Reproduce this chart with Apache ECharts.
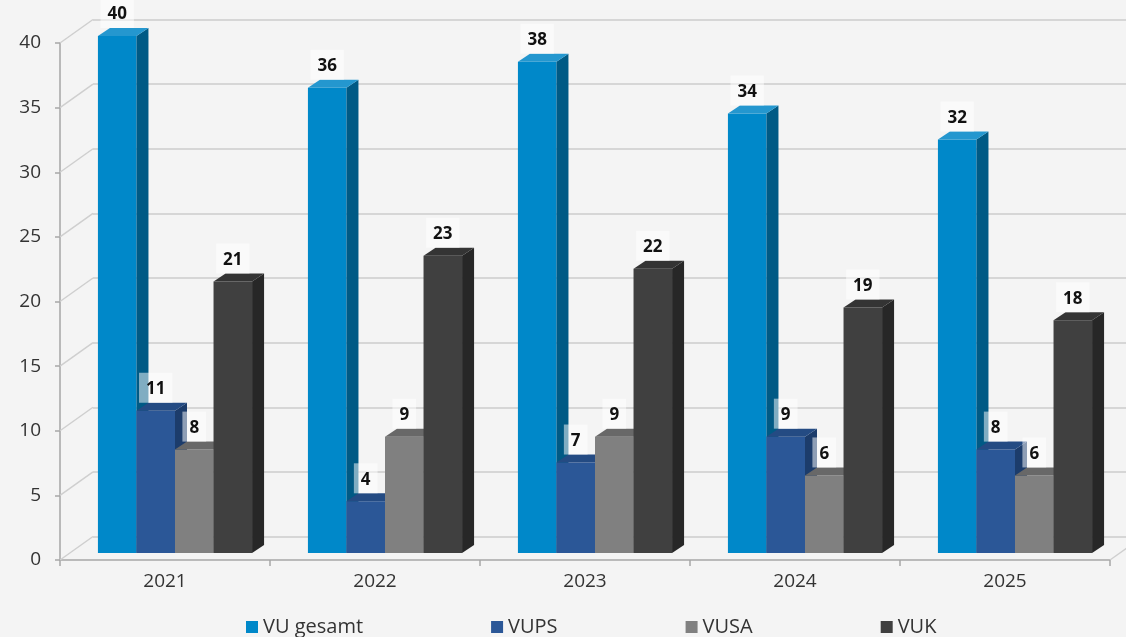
<!DOCTYPE html>
<html>
<head>
<meta charset="utf-8">
<script src="https://cdn.jsdelivr.net/npm/echarts@6/dist/echarts.min.js"></script>
<style>
  html, body { margin: 0; padding: 0; background: #f4f4f4; }
  #chart { width: 1126px; height: 637px; }
</style>
</head>
<body>
<div id="chart"></div>
<script>
// ---- data ----
var categories = ['2021', '2022', '2023', '2024', '2025'];
var seriesNames = ['VU gesamt', 'VUPS', 'VUSA', 'VUK'];
var vuGesamt = [40, 36, 38, 34, 32];
var vups = [11, 4, 7, 9, 8];
var vusa = [8, 9, 9, 6, 6];
var vuk = [21, 23, 22, 19, 18];
var yTicks = [0, 5, 10, 15, 20, 25, 30, 35, 40];

// ---- styling ----
var palette = [
  { front: '#0088c9', side: '#005a85', top: '#2497cf' },
  { front: '#2b5797', side: '#1c3c6b', top: '#244b83' },
  { front: '#808080', side: '#5c5c5c', top: '#686868' },
  { front: '#404040', side: '#272727', top: '#343434' }
];
var FONT = '"Open Sans", "Liberation Sans", sans-serif';
var offX = 10, offY = -7;     // bar depth position relative to front plane
var dX = 12, dY = -8;         // bar depth
var wallX = 33, wallY = -23.5; // back wall offset
var barFrac = 0.1835;

var allValues = [vuGesamt, vups, vusa, vuk];

function barRender(params, api) {
  var si = params.seriesIndex - 1;
  var cat = api.value(0), val = api.value(1);
  var base = api.coord([cat, 0]);
  var top = api.coord([cat, val]);
  var band = api.size([1, 0])[0];
  var w = band * barFrac;
  var x0 = base[0] + offX + (si - 2) * w;
  var yb = base[1] + offY;
  var yt = top[1] + offY;
  var c = palette[si];
  var zb = si * 10;
  return {
    type: 'group',
    children: [
      { type: 'rect', z2: zb + 1, shape: { x: x0, y: yt, width: w, height: yb - yt }, style: { fill: c.front } },
      { type: 'polygon', z2: zb + 2, shape: { points: [[x0 + w, yt], [x0 + w + dX, yt + dY], [x0 + w + dX, yb + dY], [x0 + w, yb]] }, style: { fill: c.side } },
      { type: 'polygon', z2: zb + 3, shape: { points: [[x0, yt], [x0 + dX, yt + dY], [x0 + w + dX, yt + dY], [x0 + w, yt]] }, style: { fill: c.top } },
      { type: 'text', z2: 200, style: {
          text: String(val), x: x0 + w / 2, y: yt + dY,
          align: 'center', verticalAlign: 'bottom',
          font: 'bold 17px ' + FONT, fill: '#111',
          backgroundColor: 'rgba(255,255,255,0.5)',
          padding: [8, 7, 5, 7]
      } }
    ]
  };
}

function frameRender(params, api) {
  var v = api.value(1), side = api.value(2);
  var band = api.size([1, 0])[0];
  var p = api.coord([side ? categories.length - 1 : 0, v]);
  var x = side ? p[0] + band / 2 : p[0] - band / 2;
  return {
    type: 'line',
    shape: { x1: x, y1: p[1], x2: x + wallX, y2: p[1] + wallY },
    style: { stroke: '#cfcfcf', lineWidth: 1.5 }
  };
}

var frameData = yTicks.map(function (v) { return [0, v, 0]; });
frameData.push([0, 0, 1]);

var series = [{
  type: 'custom',
  name: 'frame',
  xAxisIndex: 0, yAxisIndex: 0,
  z: 1, silent: true,
  renderItem: frameRender,
  data: frameData,
  clip: false
}];
seriesNames.forEach(function (n, i) {
  series.push({
    type: 'custom',
    name: n,
    xAxisIndex: 0, yAxisIndex: 0,
    z: 2,
    renderItem: barRender,
    clip: false,
    itemStyle: { color: palette[i].front },
    data: allValues[i].map(function (v, k) { return [k, v]; })
  });
});

var chart = echarts.init(document.getElementById('chart'));
chart.setOption({
  backgroundColor: '#f4f4f4',
  animation: false,
  grid: [
    { left: 60, right: 16, top: 43, bottom: 77 },
    { left: 93, right: -20, top: 19.5, bottom: 100.5 }
  ],
  legend: {
    data: seriesNames,
    left: 241, top: 612,
    itemWidth: 12, itemHeight: 12, itemGap: 128,
    icon: 'rect',
    textStyle: { fontFamily: FONT, fontSize: 20, color: '#333' }
  },
  xAxis: [
    {
      type: 'category', gridIndex: 0, data: categories,
      axisLine: { lineStyle: { color: '#a6a6a6', width: 1.5 } },
      axisTick: { show: true, length: 6, lineStyle: { color: '#a6a6a6', width: 1.5 } },
      axisLabel: { fontFamily: FONT, fontSize: 19, color: '#333', margin: 12 },
      splitLine: { show: false }
    },
    {
      type: 'category', gridIndex: 1, data: categories, show: false
    }
  ],
  yAxis: [
    {
      type: 'value', gridIndex: 0, min: 0, max: 40, interval: 5,
      axisLine: { show: true, lineStyle: { color: '#a6a6a6', width: 1.5 } },
      axisTick: { show: true, length: 5, lineStyle: { color: '#a6a6a6', width: 1.5 } },
      axisLabel: { fontFamily: FONT, fontSize: 19, color: '#333', margin: 19 },
      splitLine: { show: false }
    },
    {
      type: 'value', gridIndex: 1, min: 0, max: 40, interval: 5,
      axisLine: { show: false }, axisTick: { show: false }, axisLabel: { show: false },
      splitLine: { show: true, lineStyle: { color: '#d6d6d6', width: 1.8 } }
    }
  ],
  series: series
});
</script>
</body>
</html>
